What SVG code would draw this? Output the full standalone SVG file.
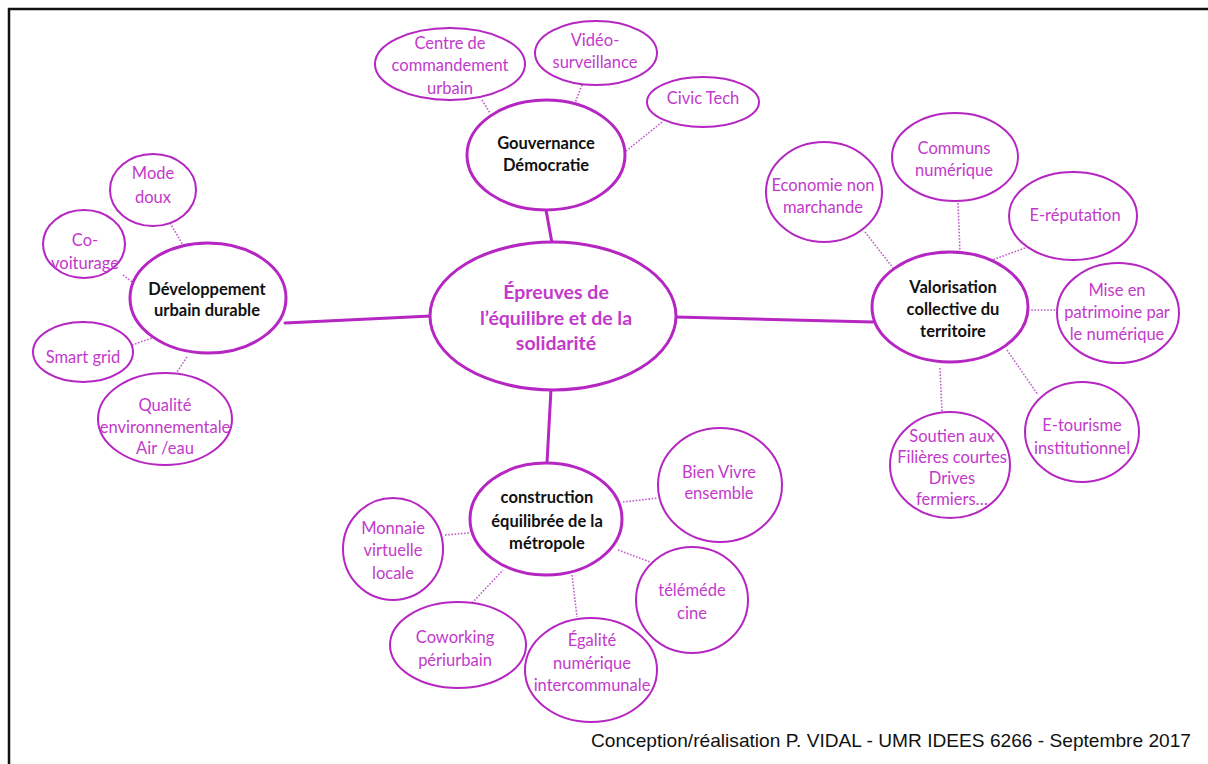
<svg xmlns="http://www.w3.org/2000/svg" width="1208" height="764" viewBox="0 0 1208 764">
<style>
.bg{fill:#fff}
.frame{fill:none;stroke:#111;stroke-width:2.5}
.main{fill:#fff;stroke:#b526c2;stroke-width:3}
.leaf{fill:#fff;stroke:#b526c2;stroke-width:2}
.solid{stroke:#b526c2;stroke-width:3;fill:none;stroke-linecap:round}
.dot{stroke:#c060cc;stroke-width:1.6;fill:none;stroke-dasharray:1.6 1.6}
text{font-family:Lato,"Open Sans","Liberation Sans",sans-serif;text-anchor:middle}
.lt{fill:#c23acb;font-size:16.5px}
.bt{fill:#111;font-size:16.5px;font-weight:bold}
.ct{fill:#c23acb;font-size:19.5px;font-weight:bold}
.foot{fill:#111;font-size:19px;text-anchor:start;font-family:"Liberation Sans",Lato,sans-serif}
</style>
<rect class="bg" x="0" y="0" width="1208" height="764"/>
<rect class="frame" x="9" y="9" width="1210" height="770"/>
<g id="connectors">
<line class="solid" x1="546" y1="210" x2="552" y2="243"/>
<line class="solid" x1="285" y1="323" x2="431" y2="316"/>
<line class="solid" x1="676" y1="317" x2="873" y2="322"/>
<line class="solid" x1="551" y1="389" x2="547" y2="463"/>
<line class="dot" x1="482" y1="100" x2="490" y2="113"/>
<line class="dot" x1="582" y1="85" x2="575" y2="103"/>
<line class="dot" x1="662" y1="122" x2="625" y2="152"/>
<line class="dot" x1="170" y1="223" x2="183" y2="245"/>
<line class="dot" x1="123" y1="275" x2="132" y2="282"/>
<line class="dot" x1="132" y1="345" x2="152" y2="338"/>
<line class="dot" x1="187" y1="357" x2="175" y2="375"/>
<line class="dot" x1="865" y1="232" x2="893" y2="268"/>
<line class="dot" x1="958" y1="203" x2="960" y2="253"/>
<line class="dot" x1="1025" y1="248" x2="992" y2="260"/>
<line class="dot" x1="1028" y1="310" x2="1060" y2="310"/>
<line class="dot" x1="1007" y1="350" x2="1038" y2="395"/>
<line class="dot" x1="940" y1="368" x2="942" y2="412"/>
<line class="dot" x1="445" y1="535" x2="469" y2="533"/>
<line class="dot" x1="623" y1="502" x2="658" y2="498"/>
<line class="dot" x1="618" y1="550" x2="650" y2="562"/>
<line class="dot" x1="472" y1="603" x2="503" y2="570"/>
<line class="dot" x1="572" y1="575" x2="577" y2="617"/>
</g>
<g id="center">
<ellipse class="main" cx="553" cy="316" rx="123" ry="74"/>
<text class="ct" x="556" y="299">Épreuves de</text>
<text class="ct" x="556" y="325">l’équilibre et de la</text>
<text class="ct" x="556" y="350">solidarité</text>
</g>
<g id="gouvernance">
<ellipse class="main" cx="546" cy="155" rx="79" ry="55"/>
<text class="bt" x="546" y="149">Gouvernance</text>
<text class="bt" x="546" y="171">Démocratie</text>
</g>
<g id="centre-commandement">
<ellipse class="leaf" cx="450" cy="64" rx="75" ry="36"/>
<text class="lt" x="450" y="49">Centre de</text>
<text class="lt" x="450" y="71">commandement</text>
<text class="lt" x="450" y="94">urbain</text>
</g>
<g id="video">
<ellipse class="leaf" cx="596" cy="53" rx="61" ry="32"/>
<text class="lt" x="595" y="46">Vidéo-</text>
<text class="lt" x="595" y="68">surveillance</text>
</g>
<g id="civic">
<ellipse class="leaf" cx="703" cy="102" rx="56" ry="25"/>
<text class="lt" x="703" y="104">Civic Tech</text>
</g>
<g id="developpement">
<ellipse class="main" cx="208" cy="298" rx="78" ry="55"/>
<text class="bt" x="207" y="295">Développement</text>
<text class="bt" x="207" y="316">urbain durable</text>
</g>
<g id="mode-doux">
<ellipse class="leaf" cx="153" cy="190" rx="43" ry="36"/>
<text class="lt" x="153" y="179">Mode</text>
<text class="lt" x="153" y="203">doux</text>
</g>
<g id="covoiturage">
<ellipse class="leaf" cx="84" cy="244" rx="41" ry="34"/>
<text class="lt" x="85" y="246">Co-</text>
<text class="lt" x="85" y="269">voiturage</text>
</g>
<g id="smart-grid">
<ellipse class="leaf" cx="83" cy="352" rx="50" ry="30"/>
<text class="lt" x="83" y="363">Smart grid</text>
</g>
<g id="qualite">
<ellipse class="leaf" cx="165" cy="419" rx="67" ry="46"/>
<text class="lt" x="165" y="411">Qualité</text>
<text class="lt" x="165" y="433">environnementale</text>
<text class="lt" x="165" y="454">Air /eau</text>
</g>
<g id="valorisation">
<ellipse class="main" cx="950" cy="307" rx="78" ry="55"/>
<text class="bt" x="953" y="293">Valorisation</text>
<text class="bt" x="953" y="315">collective du</text>
<text class="bt" x="953" y="337">territoire</text>
</g>
<g id="communs">
<ellipse class="leaf" cx="955" cy="157" rx="63" ry="44"/>
<text class="lt" x="954" y="154">Communs</text>
<text class="lt" x="954" y="176">numérique</text>
</g>
<g id="economie">
<ellipse class="leaf" cx="824" cy="192" rx="58" ry="50"/>
<text class="lt" x="823" y="191">Economie non</text>
<text class="lt" x="823" y="213">marchande</text>
</g>
<g id="ereputation">
<ellipse class="leaf" cx="1073" cy="216" rx="64" ry="44"/>
<text class="lt" x="1075" y="221">E-réputation</text>
</g>
<g id="patrimoine">
<ellipse class="leaf" cx="1118" cy="313" rx="61" ry="50"/>
<text class="lt" x="1117" y="296">Mise en</text>
<text class="lt" x="1117" y="318">patrimoine par</text>
<text class="lt" x="1117" y="340">le numérique</text>
</g>
<g id="etourisme">
<ellipse class="leaf" cx="1082" cy="432" rx="57" ry="50"/>
<text class="lt" x="1082" y="431">E-tourisme</text>
<text class="lt" x="1082" y="454">institutionnel</text>
</g>
<g id="soutien">
<ellipse class="leaf" cx="950" cy="465" rx="60" ry="53"/>
<text class="lt" x="952" y="442">Soutien aux</text>
<text class="lt" x="952" y="463">Filières courtes</text>
<text class="lt" x="952" y="484">Drives</text>
<text class="lt" x="952" y="505">fermiers…</text>
</g>
<g id="construction">
<ellipse class="main" cx="546" cy="519" rx="76" ry="56"/>
<text class="bt" x="547" y="503">construction</text>
<text class="bt" x="547" y="527">équilibrée de la</text>
<text class="bt" x="547" y="549">métropole</text>
</g>
<g id="monnaie">
<ellipse class="leaf" cx="393" cy="549" rx="50" ry="51"/>
<text class="lt" x="393" y="534">Monnaie</text>
<text class="lt" x="393" y="556">virtuelle</text>
<text class="lt" x="393" y="579">locale</text>
</g>
<g id="bien-vivre">
<ellipse class="leaf" cx="720" cy="485" rx="62" ry="57"/>
<text class="lt" x="719" y="478">Bien Vivre</text>
<text class="lt" x="719" y="499">ensemble</text>
</g>
<g id="telemedecine">
<ellipse class="leaf" cx="692" cy="600" rx="56" ry="53"/>
<text class="lt" x="692" y="596">téléméde</text>
<text class="lt" x="692" y="619">cine</text>
</g>
<g id="coworking">
<ellipse class="leaf" cx="458" cy="645" rx="68" ry="43"/>
<text class="lt" x="455" y="643">Coworking</text>
<text class="lt" x="455" y="666">périurbain</text>
</g>
<g id="egalite">
<ellipse class="leaf" cx="591" cy="670" rx="66" ry="52"/>
<text class="lt" x="592" y="646">Égalité</text>
<text class="lt" x="592" y="669">numérique</text>
<text class="lt" x="592" y="691">intercommunale</text>
</g>
<text class="foot" x="591" y="747" textLength="600" lengthAdjust="spacingAndGlyphs">Conception/réalisation P. VIDAL - UMR IDEES 6266 - Septembre 2017</text>
</svg>
